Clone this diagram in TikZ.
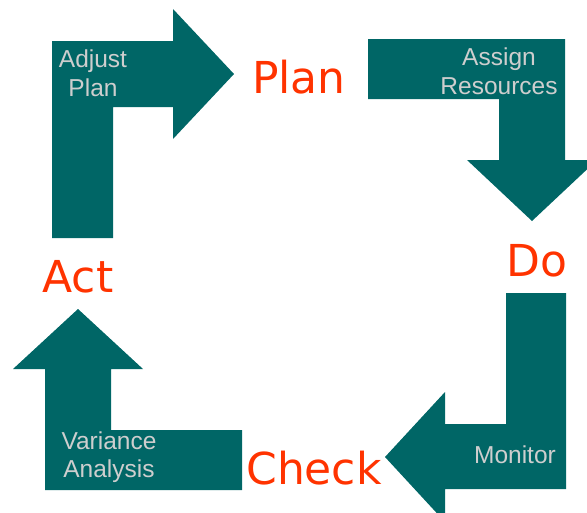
\documentclass[tikz,border=0pt]{standalone}
\usepackage{fontspec}
\setmainfont{Liberation Sans}
\newfontfamily\phasefont{DejaVu Sans}
\usepackage{xcolor}
\usepackage{tikz}
\usetikzlibrary{positioning,calc}
\definecolor{cycleteal}{RGB}{0,102,102}
\definecolor{phasered}{RGB}{255,51,0}
\definecolor{tasktext}{RGB}{206,206,206}

\begin{document}
\begin{tikzpicture}[x=1pt,y=-1pt,
    bentarrow/.style={fill=cycleteal,draw=none},
    phase/.style={text=phasered,font=\phasefont\fontsize{44}{48}\selectfont,inner sep=0pt,anchor=base},
    tasklabel/.style={text=tasktext,font=\fontsize{24.5}{28.5}\selectfont,align=center,inner sep=0pt}]
        \clip (0,0) rectangle (587,512);

        % Act -> Plan
        \draw[bentarrow] (52,238) -- (52,41) -- (173,41) -- (173,9) -- (234,74) -- (173,139) -- (173,107) -- (113,107) -- (113,238) -- cycle;
        \node[tasklabel] (adjust) at (93,73) {Adjust\\Plan};

        % Plan -> Do
        \draw[bentarrow] (368,39) -- (565,39) -- (565,160) -- (597,160) -- (532,221) -- (467,160) -- (499,160) -- (499,99) -- (368,99) -- cycle;
        \node[tasklabel] (assign) at (499,71) {Assign\\Resources};

        % Do -> Check
        \draw[bentarrow] (566,293) -- (566,489) -- (445,489) -- (445,522) -- (385,457) -- (445,392) -- (445,424) -- (506,424) -- (506,293) -- cycle;
        \node[tasklabel,anchor=base] (monitor) at (515,463) {Monitor};

        % Check -> Act
        \draw[bentarrow] (242,490) -- (45,490) -- (45,369) -- (13,369) -- (78,309) -- (143,369) -- (111,369) -- (111,430) -- (242,430) -- cycle;
        \node[tasklabel] (variance) at (109,457) {Variance\\Analysis};

        % Phases
        \node[phase] (plan) at (299,93) {Plan};
        \node[phase] (do) at (537,276) {Do};
        \node[phase] (check) at (314,484) {Check};
        \node[phase] (act) at (78,292) {Act};
    \end{tikzpicture}
\end{document}
